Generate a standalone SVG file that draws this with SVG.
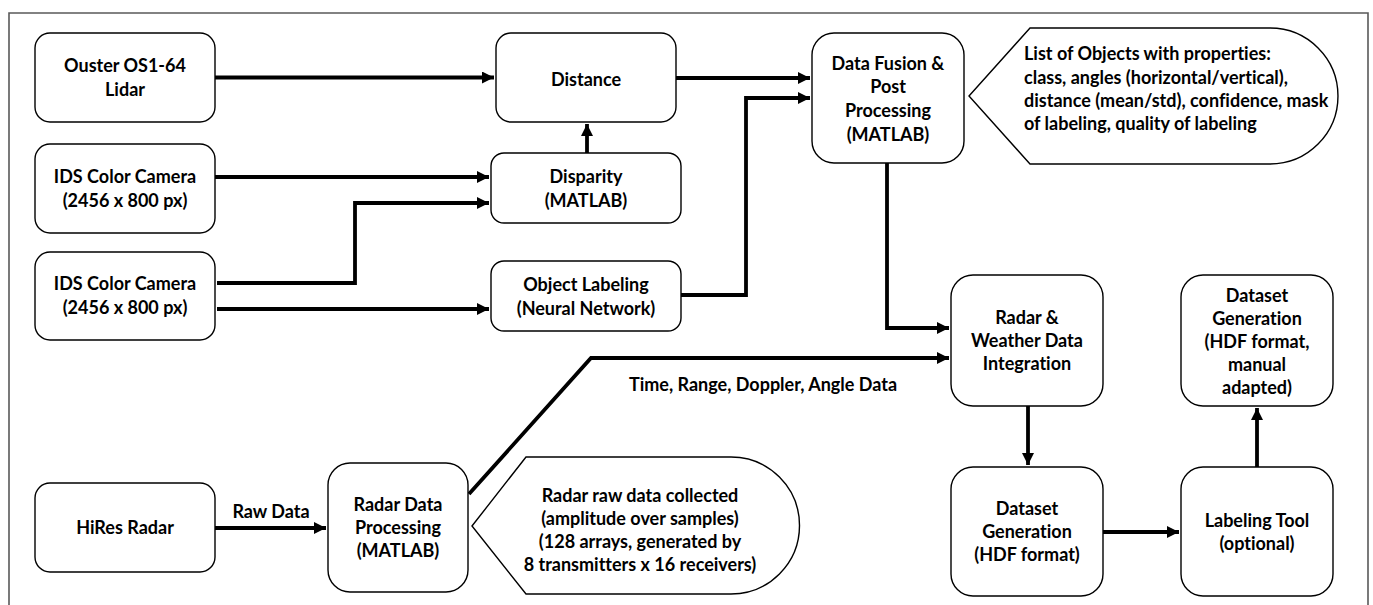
<svg xmlns="http://www.w3.org/2000/svg" width="1373" height="605" viewBox="0 0 1373 605">
<style>
.box{fill:#fff;stroke:#000;stroke-width:1.4}
.t{font-family:Lato,"Liberation Sans",sans-serif;font-weight:bold;font-size:18px;fill:#000;text-anchor:middle;font-variant-ligatures:none}
.tl{text-anchor:start}
.c{fill:none;stroke:#000;stroke-width:3.8;stroke-linejoin:miter}
</style>
<defs>
<marker id="ah" markerUnits="userSpaceOnUse" markerWidth="13" markerHeight="13" refX="12" refY="6" orient="auto">
<path d="M0,0 L12,6 L0,12 z" fill="#000"/>
</marker>
</defs>
<rect width="1373" height="605" fill="#fff"/>
<path d="M9,610 V13 H1368 V610" fill="none" stroke="#595959" stroke-width="1.6"/>

<g id="connectors">
<path class="c" d="M215,77.5 H494" marker-end="url(#ah)"/>
<path class="c" d="M676,78 H810" marker-end="url(#ah)"/>
<path class="c" d="M587,153 V124" marker-end="url(#ah)"/>
<path class="c" d="M215,177 H489" marker-end="url(#ah)"/>
<path class="c" d="M217,283 H355 V203 H489" marker-end="url(#ah)"/>
<path class="c" d="M217,309 H489" marker-end="url(#ah)"/>
<path class="c" d="M681,295 H746 V98 H810" marker-end="url(#ah)"/>
<path class="c" d="M887,163 V328 H949" marker-end="url(#ah)"/>
<path class="c" d="M469,494 L591,358 H949" marker-end="url(#ah)"/>
<path class="c" d="M215,528 H326" marker-end="url(#ah)"/>
<path class="c" d="M1028,406 V465" marker-end="url(#ah)"/>
<path class="c" d="M1103,532 H1179" marker-end="url(#ah)"/>
<path class="c" d="M1257,467 V408" marker-end="url(#ah)"/>
<text class="t" x="763" y="391">Time, Range, Doppler, Angle Data</text>
<text class="t" x="271" y="518">Raw Data</text>
</g>

<g id="ouster">
<rect class="box" x="35" y="33" width="180" height="89" rx="15"/>
<text class="t" x="125" y="72">Ouster OS1-64</text>
<text class="t" x="125" y="96">Lidar</text>
</g>
<g id="camera1">
<rect class="box" x="35" y="144" width="180" height="89" rx="15"/>
<text class="t" x="125" y="183">IDS Color Camera</text>
<text class="t" x="125" y="207">(2456 x 800 px)</text>
</g>
<g id="camera2">
<rect class="box" x="35" y="252" width="180" height="88" rx="15"/>
<text class="t" x="125" y="290">IDS Color Camera</text>
<text class="t" x="125" y="314">(2456 x 800 px)</text>
</g>
<g id="hires">
<rect class="box" x="35" y="483" width="180" height="89" rx="15"/>
<text class="t" x="125" y="534">HiRes Radar</text>
</g>
<g id="distance">
<rect class="box" x="496" y="33" width="180" height="89" rx="15"/>
<text class="t" x="586" y="86">Distance</text>
</g>
<g id="disparity">
<rect class="box" x="491" y="153" width="190" height="70" rx="13"/>
<text class="t" x="586" y="183">Disparity</text>
<text class="t" x="586" y="207">(MATLAB)</text>
</g>
<g id="objectlabeling">
<rect class="box" x="491" y="261" width="190" height="70" rx="13"/>
<text class="t" x="586" y="291">Object Labeling</text>
<text class="t" x="586" y="315">(Neural Network)</text>
</g>
<g id="fusion">
<rect class="box" x="812" y="33" width="152" height="130" rx="22"/>
<text class="t" x="888" y="70">Data Fusion &amp;</text>
<text class="t" x="888" y="93">Post</text>
<text class="t" x="888" y="117">Processing</text>
<text class="t" x="888" y="141">(MATLAB)</text>
</g>
<g id="objectlist">
<path class="box" d="M969,96 L1030,28 H1270 A68,68 0 0 1 1270,164 H1030 Z"/>
<text class="t tl" x="1024" y="60">List of Objects with properties:</text>
<text class="t tl" x="1024" y="84">class, angles (horizontal/vertical),</text>
<text class="t tl" x="1024" y="107">distance (mean/std), confidence, mask</text>
<text class="t tl" x="1024" y="130">of labeling, quality of labeling</text>
</g>
<g id="integration">
<rect class="box" x="951" y="275" width="152" height="131" rx="22"/>
<text class="t" x="1027" y="324">Radar &amp;</text>
<text class="t" x="1027" y="347">Weather Data</text>
<text class="t" x="1027" y="370">Integration</text>
</g>
<g id="datasetmanual">
<rect class="box" x="1181" y="275" width="152" height="131" rx="22"/>
<text class="t" x="1257" y="302">Dataset</text>
<text class="t" x="1257" y="325">Generation</text>
<text class="t" x="1257" y="348">(HDF format,</text>
<text class="t" x="1257" y="371">manual</text>
<text class="t" x="1257" y="394">adapted)</text>
</g>
<g id="dataset">
<rect class="box" x="951" y="467" width="152" height="129" rx="22"/>
<text class="t" x="1027" y="515">Dataset</text>
<text class="t" x="1027" y="538">Generation</text>
<text class="t" x="1027" y="561">(HDF format)</text>
</g>
<g id="labelingtool">
<rect class="box" x="1181" y="467" width="152" height="129" rx="22"/>
<text class="t" x="1257" y="527">Labeling Tool</text>
<text class="t" x="1257" y="550">(optional)</text>
</g>
<g id="radarproc">
<rect class="box" x="328" y="463" width="140" height="129" rx="22"/>
<text class="t" x="398" y="511">Radar Data</text>
<text class="t" x="398" y="534">Processing</text>
<text class="t" x="398" y="557">(MATLAB)</text>
</g>
<g id="rawnote">
<path class="box" d="M472,526 L526,457 H731 A68.5,68.5 0 0 1 731,594 H526 Z"/>
<text class="t" x="640" y="502">Radar raw data collected</text>
<text class="t" x="640" y="525">(amplitude over samples)</text>
<text class="t" x="640" y="548">(128 arrays, generated by</text>
<text class="t" x="640" y="571">8 transmitters x 16 receivers)</text>
</g>
</svg>
